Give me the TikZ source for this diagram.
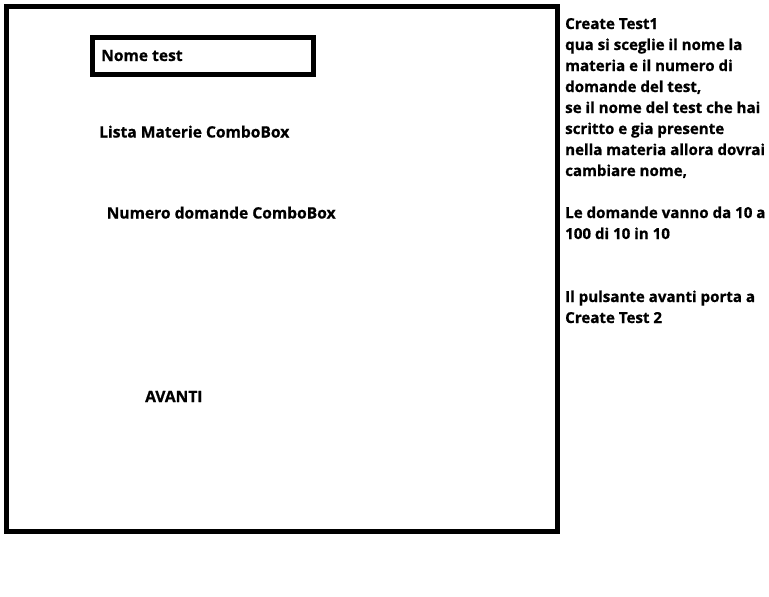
\documentclass[tikz,border=0pt]{standalone}
\usepackage{fontspec}
\setmainfont{Open Sans}[BoldFeatures={FakeBold=0.8}]
\begin{document}
\begin{tikzpicture}[x=1pt,y=-1pt,
  lbl/.style={anchor=base west,inner sep=0pt,font=\fontsize{15.6}{21}\selectfont\bfseries},
  notefont/.style={font=\fontsize{15.1}{21}\selectfont\bfseries},
  frame/.style={draw=black,line width=5pt,outer sep=0pt,inner sep=0pt,anchor=north west}]
\useasboundingbox (0,0) rectangle (769,597);
\node[frame,minimum width=551pt,minimum height=525pt] (screen) at (6.5,6.5) {};
\node[frame,minimum width=220.5pt,minimum height=36.5pt] (nomebox) at (92.5,37.5) {};
\node[lbl] (nome) at (101,61) {Nome test};
\node[lbl] (lista) at (99,137.5) {Lista Materie ComboBox};
\node[lbl] (numero) at (106.5,218.5) {Numero domande ComboBox};
\node[lbl] (avanti) at (145,402) {AVANTI};
\node[lbl,notefont,align=left] (note) at (565,323) {Create Test1\\
qua si sceglie il nome la\\
materia e il numero di\\
domande del test,\\
se il nome del test che hai\\
scritto e gia presente\\
nella materia allora dovrai\\
cambiare nome,\\
\\
Le domande vanno da 10 a\\
100 di 10 in 10\\
\\
\\
Il pulsante avanti porta a\\
Create Test 2};
\end{tikzpicture}
\end{document}
